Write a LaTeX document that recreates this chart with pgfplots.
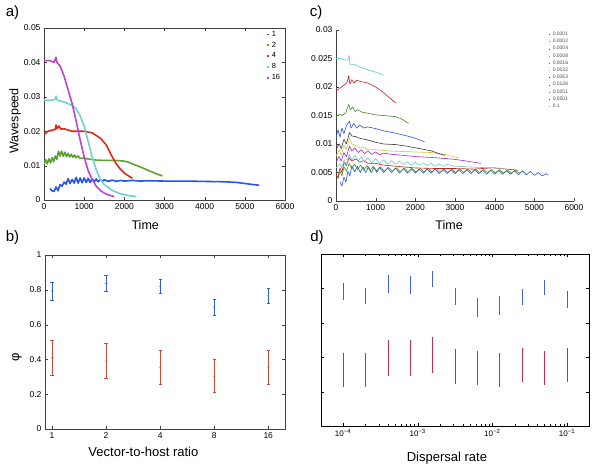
\documentclass[border=0pt]{standalone}
\usepackage{pgfplots}
\pgfplotsset{compat=1.18}
\usepackage{fontspec}
\setmainfont{Liberation Sans}
\definecolor{aB}{RGB}{35,85,230}
\definecolor{aG}{RGB}{95,160,50}
\definecolor{aR}{RGB}{220,40,20}
\definecolor{aC}{RGB}{110,210,210}
\definecolor{aM}{RGB}{185,70,205}
\definecolor{cB}{RGB}{40,80,220}
\definecolor{cG}{RGB}{70,140,30}
\definecolor{cR}{RGB}{200,30,30}
\definecolor{cC}{RGB}{100,200,200}
\definecolor{cM}{RGB}{170,40,190}
\definecolor{cY}{RGB}{205,200,70}
\definecolor{cK}{RGB}{60,60,60}
\definecolor{bB}{RGB}{45,95,215}
\definecolor{bR}{RGB}{200,75,50}
\definecolor{dB}{RGB}{60,100,220}
\definecolor{dR}{RGB}{200,45,70}
\pgfplotsset{
  common/.style={scale only axis, anchor=south west,
    axis line style={black!75}, tick style={black!75, major tick length=3pt},
    tick label style={font=\fontsize{8.5}{10}\selectfont},
    /pgf/number format/assume math mode=true,
    /pgf/number format/1000 sep={},
    scaled x ticks=false, scaled y ticks=false},
}
\begin{document}
\begin{tikzpicture}
\useasboundingbox (0pt,0pt) rectangle (592pt,467pt);
% ---------- panel a
\begin{axis}[common, at={(44pt,267pt)}, width=241pt, height=172pt,
  xmin=0, xmax=6000, ymin=0, ymax=0.05,
  xtick={0,1000,2000,3000,4000,5000,6000},
  ytick={0,0.01,0.02,0.03,0.04,0.05},
  yticklabel style={/pgf/number format/fixed, /pgf/number format/precision=2},
  xlabel={Time}, ylabel={Wavespeed},
  label style={font=\fontsize{12.5}{14}\selectfont},
  xlabel style={at={(axis description cs:0.42,-0.145)}, anchor=center},
  ylabel style={at={(axis description cs:-0.12,0.46)}, anchor=center},
  legend style={draw=none, fill=none, at={(0.922,0.99)}, anchor=north west,
    font=\fontsize{7.5}{9}\selectfont, inner sep=0pt, row sep=2.2pt, column sep=1pt,
    nodes={inner sep=1pt}},
  legend cell align=left,
  legend image code/.code={\draw[#1, line width=1.4pt] (0pt,0pt) -- (2pt,0pt);},
  every axis plot/.append style={line width=1.6pt, line join=round}]
\addplot[aB] coordinates {(150,0.0033) (200,0.0027) (250,0.0025) (300,0.0038) (350,0.0027) (400,0.0045) (450,0.0040) (500,0.0052) (550,0.0046) (600,0.0062) (650,0.0048) (700,0.0060) (750,0.0049) (800,0.0066) (850,0.0049) (900,0.0064) (950,0.0050) (1000,0.0064) (1050,0.0051) (1100,0.0063) (1150,0.0051) (1200,0.0062) (1250,0.0052) (1300,0.0061) (1350,0.0053) (1400,0.0060) (1450,0.0054) (1500,0.0059) (1600,0.0054) (1700,0.0058) (1800,0.0054) (1900,0.0057) (2000,0.0055) (2200,0.0057) (2400,0.0055) (2600,0.0056) (3000,0.0055) (3500,0.0055) (4000,0.0054) (4500,0.0053) (4800,0.0051) (5000,0.0048) (5200,0.0045) (5350,0.0043)};
\addlegendentry{1}
\addplot[aG] coordinates {(0,0.0105) (40,0.0118) (80,0.0105) (120,0.0120) (160,0.0108) (200,0.0123) (240,0.0111) (280,0.0128) (320,0.0118) (360,0.0142) (400,0.0128) (440,0.0142) (480,0.0127) (520,0.0139) (560,0.0126) (600,0.0136) (640,0.0125) (680,0.0133) (720,0.0124) (760,0.0131) (800,0.0123) (850,0.0128) (900,0.0121) (1000,0.0122) (1100,0.0119) (1300,0.0116) (1500,0.0115) (1800,0.0115) (2000,0.0113) (2100,0.0110) (2200,0.0105) (2400,0.0096) (2600,0.0086) (2800,0.0076) (2950,0.0070)};
\addlegendentry{2}
\addplot[aR] coordinates {(0,0.0190) (100,0.0200) (200,0.0203) (280,0.0205) (300,0.0218) (330,0.0207) (370,0.0215) (420,0.0206) (500,0.0207) (700,0.0200) (1000,0.0200) (1200,0.0195) (1400,0.0180) (1550,0.0160) (1700,0.0125) (1800,0.0105) (1900,0.0090) (2000,0.0078) (2200,0.0063)};
\addlegendentry{4}
\addplot[aC] coordinates {(0,0.0290) (200,0.0290) (280,0.0293) (300,0.0302) (330,0.0290) (500,0.0285) (700,0.0275) (800,0.0265) (900,0.0245) (1000,0.0215) (1100,0.0170) (1200,0.0125) (1300,0.0088) (1400,0.0060) (1500,0.0045) (1700,0.0028) (1900,0.0018) (2100,0.0013) (2300,0.0010)};
\addlegendentry{8}
\addplot[aM] coordinates {(0,0.0405) (150,0.0405) (250,0.0400) (300,0.0415) (320,0.0400) (400,0.0390) (500,0.0360) (600,0.0320) (700,0.0280) (800,0.0230) (900,0.0175) (1000,0.0125) (1100,0.0085) (1200,0.0060) (1300,0.0040) (1400,0.0028) (1500,0.0020) (1600,0.0015) (1750,0.0010)};
\addlegendentry{16}
\end{axis}
% ---------- panel c
\begin{axis}[common, at={(336pt,266pt)}, width=238pt, height=171pt,
  axis x line*=bottom, axis y line*=left,
  xmin=0, xmax=6000, ymin=0, ymax=0.03,
  xtick={0,1000,2000,3000,4000,5000,6000},
  ytick={0,0.005,0.01,0.015,0.02,0.025,0.03},
  yticklabel style={/pgf/number format/fixed, /pgf/number format/precision=3},
  xlabel={Time},
  label style={font=\fontsize{12.5}{14}\selectfont},
  xlabel style={at={(axis description cs:0.475,-0.14)}, anchor=center},
  legend style={draw=none, fill=none, at={(0.891,0.992)}, anchor=north west,
    font=\fontsize{5}{6}\selectfont, inner sep=0pt, row sep=1.2pt, column sep=2pt,
    nodes={inner sep=0.5pt}, text=black!70},
  legend cell align=left,
  legend image code/.code={\draw[#1, line width=0.8pt] (0pt,0pt) -- (1.2pt,0pt);},
  every axis plot/.append style={line width=0.6pt, line join=round}]
\addplot[cB] coordinates {(100,0.0034) (150,0.0026) (200,0.0042) (250,0.0033) (300,0.0052) (350,0.0044) (400,0.0062) (470,0.0051) (540,0.0061) (610,0.0050) (680,0.0060) (750,0.0050) (820,0.0060) (890,0.0050) (960,0.0059) (1030,0.0050) (1100,0.0059) (1200,0.0050) (1300,0.0058) (1400,0.0050) (1500,0.0058) (1600,0.0049) (1700,0.0057) (1800,0.0049) (1900,0.0057) (2000,0.0049) (2100,0.0056) (2200,0.0049) (2300,0.0056) (2400,0.0049) (2500,0.0056) (2600,0.0048) (2700,0.0055) (2800,0.0048) (2900,0.0055) (3000,0.0048) (3100,0.0055) (3200,0.0048) (3300,0.0055) (3400,0.0048) (3500,0.0055) (3600,0.0048) (3700,0.0054) (3800,0.0047) (3900,0.0054) (4000,0.0047) (4100,0.0054) (4200,0.0047) (4300,0.0053) (4400,0.0047) (4500,0.0053) (4600,0.0046) (4700,0.0053) (4800,0.0046) (4900,0.0052) (5000,0.0045) (5100,0.0050) (5200,0.0044) (5300,0.0048) (5350,0.0045)};
\addlegendentry{0.0001}
\addplot[cG] coordinates {(50,0.0040) (100,0.0052) (150,0.0044) (200,0.0060) (260,0.0052) (330,0.0066) (400,0.0056) (470,0.0065) (540,0.0055) (620,0.0063) (700,0.0054) (780,0.0062) (860,0.0053) (940,0.0061) (1020,0.0053) (1120,0.0060) (1220,0.0052) (1320,0.0059) (1420,0.0052) (1520,0.0058) (1620,0.0051) (1720,0.0058) (1820,0.0051) (1920,0.0057) (2020,0.0051) (2120,0.0057) (2220,0.0051) (2320,0.0057) (2420,0.0051) (2520,0.0057) (2620,0.0050) (2720,0.0056) (2820,0.0050) (2920,0.0056) (3020,0.0050) (3120,0.0056) (3220,0.0050) (3320,0.0056) (3420,0.0050) (3520,0.0056) (3620,0.0050) (3720,0.0055) (3820,0.0050) (3920,0.0055) (4020,0.0049) (4120,0.0055) (4220,0.0049) (4320,0.0054) (4420,0.0049) (4520,0.0054) (4620,0.0049) (4720,0.0053)};
\addlegendentry{0.0002}
\addplot[cR] coordinates {(0,0.0048) (50,0.0040) (100,0.0058) (150,0.0050) (200,0.0068) (260,0.0062) (330,0.0076) (400,0.0070) (500,0.0074) (600,0.0068) (700,0.0071) (800,0.0066) (1000,0.0066) (1200,0.0063) (1500,0.0061) (2000,0.0058) (2500,0.0057) (3000,0.0057) (3500,0.0056) (3900,0.0058) (4000,0.0058) (4300,0.0056) (4600,0.0054)};
\addlegendentry{0.0004}
\addplot[cC] coordinates {(0,0.0058) (100,0.0065) (150,0.0057) (200,0.0072) (260,0.0064) (330,0.0082) (400,0.0072) (480,0.0080) (560,0.0070) (640,0.0078) (720,0.0068) (800,0.0076) (900,0.0067) (1000,0.0074) (1100,0.0066) (1200,0.0072) (1300,0.0065) (1400,0.0071) (1500,0.0064) (1600,0.0070) (1700,0.0064) (1800,0.0069) (1900,0.0063) (2000,0.0068) (2100,0.0063) (2200,0.0067) (2300,0.0062) (2400,0.0066) (2500,0.0061) (2600,0.0065) (2700,0.0061) (2800,0.0064) (3000,0.0061) (3300,0.0060) (3600,0.0059) (4000,0.0058) (4200,0.0057)};
\addlegendentry{0.0008}
\addplot[cM] coordinates {(0,0.0068) (80,0.0078) (130,0.0070) (200,0.0085) (260,0.0077) (340,0.0096) (400,0.0088) (480,0.0093) (560,0.0085) (640,0.0090) (720,0.0083) (800,0.0088) (900,0.0082) (1000,0.0086) (1100,0.0081) (1200,0.0084) (1400,0.0082) (1700,0.0080) (2000,0.0078) (2500,0.0076) (3000,0.0073) (3300,0.0070) (3650,0.0066)};
\addlegendentry{0.0016}
\addplot[cY] coordinates {(0,0.0078) (80,0.0090) (130,0.0080) (200,0.0098) (260,0.0090) (340,0.0110) (400,0.0100) (500,0.0097) (600,0.0093) (700,0.0094) (800,0.0090) (1000,0.0090) (1300,0.0088) (1600,0.0087) (2000,0.0086) (2400,0.0085) (2800,0.0081) (3100,0.0075)};
\addlegendentry{0.0032}
\addplot[cK] coordinates {(0,0.0090) (80,0.0100) (130,0.0092) (200,0.0108) (260,0.0100) (340,0.0120) (400,0.0114) (500,0.0113) (600,0.0110) (800,0.0107) (1000,0.0103) (1200,0.0100) (1500,0.0099) (1800,0.0096) (2100,0.0092) (2400,0.0088) (2600,0.0083) (2750,0.0080)};
\addlegendentry{0.0063}
\addplot[cB] coordinates {(0,0.0110) (50,0.0125) (100,0.0112) (150,0.0128) (200,0.0118) (260,0.0132) (340,0.0140) (380,0.0128) (450,0.0136) (520,0.0128) (600,0.0133) (700,0.0128) (800,0.0130) (1000,0.0127) (1200,0.0123) (1500,0.0119) (1800,0.0114) (2000,0.0110) (2230,0.0104)};
\addlegendentry{0.0126}
\addplot[cG] coordinates {(0,0.0148) (100,0.0152) (150,0.0150) (250,0.0155) (320,0.0170) (360,0.0160) (420,0.0165) (480,0.0157) (550,0.0160) (650,0.0156) (800,0.0154) (1000,0.0151) (1200,0.0150) (1500,0.0148) (1650,0.0144) (1830,0.0136)};
\addlegendentry{0.0251}
\addplot[cR] coordinates {(0,0.0193) (100,0.0198) (200,0.0203) (280,0.0208) (320,0.0220) (350,0.0205) (400,0.0213) (450,0.0207) (520,0.0212) (600,0.0210) (800,0.0207) (1000,0.0200) (1200,0.0190) (1350,0.0181) (1510,0.0172)};
\addlegendentry{0.0501}
\addplot[cC] coordinates {(0,0.0250) (100,0.0250) (200,0.0248) (300,0.0247) (330,0.0256) (350,0.0240) (450,0.0240) (600,0.0235) (800,0.0230) (1000,0.0226) (1200,0.0221)};
\addlegendentry{0.1}
\end{axis}
% ---------- panel b
\begin{axis}[common, at={(45pt,38pt)}, width=240pt, height=174pt,
  xmin=-0.13, xmax=4.31, ymin=0, ymax=1,
  xtick={0,1,2,3,4}, xticklabels={1,2,4,8,16},
  ytick={0,0.2,0.4,0.6,0.8,1},
  xlabel={Vector-to-host ratio}, ylabel={φ},
  label style={font=\fontsize{13}{15}\selectfont},
  xlabel style={at={(axis description cs:0.41,-0.13)}, anchor=center},
  ylabel style={at={(axis description cs:-0.117,0.41)}, anchor=center}]
\addplot[bB, only marks, mark=*, mark size=0.5pt,
  error bars/.cd, y dir=both, y explicit,
  error bar style={line width=0.8pt, bB},
  error mark options={rotate=90, mark size=1.6pt, line width=0.7pt, bB}]
  coordinates {(0,0.792) +- (0,0.051) (1,0.837) +- (0,0.044) (2,0.821) +- (0,0.041) (3,0.701) +- (0,0.046) (4,0.7655) +- (0,0.0415)};
\addplot[bR, only marks, mark=*, mark size=0.5pt,
  error bars/.cd, y dir=both, y explicit,
  error bar style={line width=0.8pt, bR},
  error mark options={rotate=90, mark size=1.6pt, line width=0.7pt, bR}]
  coordinates {(0,0.4105) +- (0,0.1005) (1,0.3895) +- (0,0.1005) (2,0.3525) +- (0,0.0975) (3,0.3035) +- (0,0.0945) (4,0.3525) +- (0,0.0975)};
\end{axis}
% ---------- panel d
\begin{axis}[common, at={(321pt,41pt)}, width=268pt, height=172pt,
  xmode=log, xmin=5.07e-5, xmax=0.197, ymin=0, ymax=1,
  axis line style={black}, tick style={black},
  xtick={1e-4,1e-3,1e-2,1e-1},
  xticklabels={10\textsuperscript{−4},10\textsuperscript{−3},10\textsuperscript{−2},10\textsuperscript{−1}},
  xticklabel style={font=\fontsize{8}{9}\selectfont},
  ytick={0.2,0.4,0.6,0.8}, yticklabels={},
  minor tick length=1.6pt,
  xlabel={Dispersal rate},
  label style={font=\fontsize{13}{15}\selectfont},
  xlabel style={at={(axis description cs:0.47,-0.186)}, anchor=center}]
\addplot[dB, only marks, mark=*, mark size=0.01pt, mark options={opacity=0},
  error bars/.cd, y dir=both, y explicit, error mark=none,
  error bar style={line width=0.9pt, dB}]
  coordinates {(1e-4,0.7805) +- (0,0.0485) (2e-4,0.7565) +- (0,0.0455) (4e-4,0.8275) +- (0,0.0525) (8e-4,0.8185) +- (0,0.0535) (1.6e-3,0.8555) +- (0,0.0455) (3.2e-3,0.7515) +- (0,0.0505) (6.3e-3,0.6895) +- (0,0.0545) (1.26e-2,0.701) +- (0,0.054) (2.51e-2,0.7485) +- (0,0.0475) (5.01e-2,0.805) +- (0,0.044) (0.1,0.7345) +- (0,0.0495)};
\addplot[dR, only marks, mark=*, mark size=0.01pt, mark options={opacity=0},
  error bars/.cd, y dir=both, y explicit, error mark=none,
  error bar style={line width=0.9pt, dR}]
  coordinates {(1e-4,0.326) +- (0,0.099) (2e-4,0.326) +- (0,0.099) (4e-4,0.394) +- (0,0.105) (8e-4,0.394) +- (0,0.105) (1.6e-3,0.4135) +- (0,0.1045) (3.2e-3,0.346) +- (0,0.103) (6.3e-3,0.337) +- (0,0.100) (1.26e-2,0.326) +- (0,0.099) (2.51e-2,0.355) +- (0,0.101) (5.01e-2,0.337) +- (0,0.100) (0.1,0.355) +- (0,0.101)};
\end{axis}
% ---------- panel letters
\node[font=\fontsize{15}{18}\selectfont] at (12.5pt,454.5pt) {a)};
\node[font=\fontsize{15}{18}\selectfont] at (12.5pt,229pt) {b)};
\node[font=\fontsize{15}{18}\selectfont] at (316pt,454.5pt) {c)};
\node[font=\fontsize{15}{18}\selectfont] at (317pt,229pt) {d)};
\end{tikzpicture}
\end{document}
